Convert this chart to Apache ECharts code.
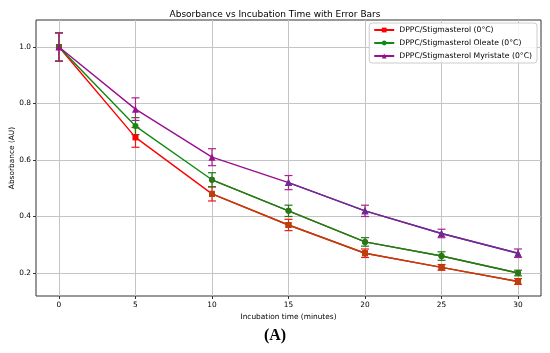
<!DOCTYPE html>
<html><head><meta charset="utf-8">
<script src="https://cdn.jsdelivr.net/npm/echarts@6/dist/echarts.min.js"></script>
<style>html,body{margin:0;padding:0;background:#fff}#c{width:550px;height:353px}</style>
</head><body><div id="c"></div>
<script>
const times = [0, 5, 10, 15, 20, 25, 30];
const seriesNames = ['DPPC/Stigmasterol (0°C)', 'DPPC/Stigmasterol Oleate (0°C)', 'DPPC/Stigmasterol Myristate (0°C)'];
const stigmasterol = [1.0, 0.68, 0.48, 0.37, 0.27, 0.22, 0.17];
const stigmasterolErr = [0.05, 0.035, 0.025, 0.02, 0.015, 0.01, 0.01];
const oleate = [1.0, 0.72, 0.53, 0.42, 0.31, 0.26, 0.20];
const oleateErr = [0.05, 0.03, 0.025, 0.02, 0.015, 0.015, 0.01];
const myristate = [1.0, 0.78, 0.61, 0.52, 0.42, 0.34, 0.27];
const myristateErr = [0.05, 0.04, 0.03, 0.025, 0.02, 0.015, 0.015];
const yTicks = [0.2, 0.4, 0.6, 0.8, 1.0];
const xTicks = [0, 5, 10, 15, 20, 25, 30];

const font = 'DejaVu Sans';
const colors = ['#ff0000', '#108a10', '#990f8f'];
const tailColors = ['#b8420c', '#2f7416', '#6a2d92'];
const tailStart = [2, 2, 3];
const errColors = ['#f01818', '#1d7a12', '#b0208f'];
const symbols = ['rect', 'circle', 'triangle'];

function errSeries(vals, errs, color, idx) {
  return {
    type: 'custom', name: 'err' + idx, silent: true, z: 1,
    data: times.map((t, i) => [t, vals[i], errs[i]]),
    renderItem: function (params, api) {
      const x = api.value(0), y = api.value(1), e = api.value(2);
      const lo = api.coord([x, y - e]);
      const hi = api.coord([x, y + e]);
      const w = 4;
      const st = { stroke: color, lineWidth: 1.2 };
      return { type: 'group', children: [
        { type: 'line', shape: { x1: lo[0], y1: lo[1], x2: hi[0], y2: hi[1] }, style: st },
        { type: 'line', shape: { x1: lo[0] - w, y1: lo[1], x2: lo[0] + w, y2: lo[1] }, style: st },
        { type: 'line', shape: { x1: hi[0] - w, y1: hi[1], x2: hi[0] + w, y2: hi[1] }, style: st }
      ]};
    }
  };
}

function lineSeries(name, vals, idx) {
  return {
    type: 'line', name: name, z: 3,
    data: times.map((t, i) => [t, vals[i]]),
    symbol: symbols[idx], symbolSize: idx === 2 ? 7 : 6,
    lineStyle: { color: colors[idx], width: 1.4 },
    itemStyle: { color: colors[idx] }
  };
}
function tailSeries(vals, idx) {
  return {
    type: 'line', name: 'tail' + idx, z: 4, silent: true,
    data: times.map((t, i) => [t, vals[i]]).slice(tailStart[idx]),
    symbol: symbols[idx], symbolSize: idx === 2 ? 7 : 6,
    lineStyle: { color: tailColors[idx], width: 1.4 },
    itemStyle: { color: tailColors[idx] }
  };
}

const chart = echarts.init(document.getElementById('c'), null, { renderer: 'canvas' });
chart.setOption({
  animation: false,
  backgroundColor: '#fff',
  title: { text: 'Absorbance vs Incubation Time with Error Bars', left: 'center', top: 5,
    textStyle: { fontFamily: font, fontSize: 9, fontWeight: 'normal', color: '#000' } },
  grid: { left: 36, right: 9, top: 20, bottom: 57, show: true, borderColor: '#333', borderWidth: 1,
    backgroundColor: 'transparent', containLabel: false, outerBoundsMode: 'none' },
  legend: {
    data: seriesNames, orient: 'vertical', right: 13, top: 23,
    itemWidth: 20, itemHeight: 6, itemGap: 5,
    backgroundColor: 'rgba(255,255,255,0.85)', borderColor: '#ccc', borderWidth: 1, borderRadius: 3,
    padding: [3, 5, 3, 4],
    textStyle: { fontFamily: font, fontSize: 7.7, color: '#000' }
  },
  xAxis: {
    type: 'value', min: -1.5, max: 31.5, interval: 5,
    name: 'Incubation time (minutes)', nameLocation: 'middle', nameGap: 17,
    nameTextStyle: { fontFamily: font, fontSize: 7.4, color: '#000' },
    axisLine: { show: false, onZero: false },
    axisTick: { show: true, length: 3, lineStyle: { color: '#333' }, customValues: xTicks },
    axisLabel: { fontFamily: font, fontSize: 7.4, color: '#000', margin: 6, customValues: xTicks },
    splitLine: { show: true, lineStyle: { color: '#c4c4c4', width: 1 } }
  },
  yAxis: {
    type: 'value', min: 0.1186, max: 1.0956, interval: 0.2,
    name: 'Absorbance (AU)', nameLocation: 'middle', nameGap: 20, nameMoveOverlap: false,
    nameTextStyle: { fontFamily: font, fontSize: 7.4, color: '#000' },
    axisLine: { show: false, onZero: false },
    axisTick: { show: true, length: 3, lineStyle: { color: '#333' }, customValues: yTicks },
    axisLabel: { fontFamily: font, fontSize: 7.4, color: '#000', margin: 5, customValues: yTicks,
      formatter: v => v.toFixed(1) },
    splitLine: { show: true, lineStyle: { color: '#c4c4c4', width: 1 } }
  },
  series: [
    errSeries(stigmasterol, stigmasterolErr, errColors[0], 0),
    errSeries(oleate, oleateErr, errColors[1], 1),
    errSeries(myristate, myristateErr, errColors[2], 2),
    lineSeries(seriesNames[0], stigmasterol, 0),
    lineSeries(seriesNames[1], oleate, 1),
    lineSeries(seriesNames[2], myristate, 2),
    tailSeries(stigmasterol, 0),
    tailSeries(oleate, 1),
    tailSeries(myristate, 2)
  ],
  graphic: [{ type: 'text', left: 'center', top: 328,
    style: { text: '(A)', fontFamily: 'Liberation Serif', fontWeight: 'bold', fontSize: 16, fill: '#000' } }]
});
</script></body></html>
